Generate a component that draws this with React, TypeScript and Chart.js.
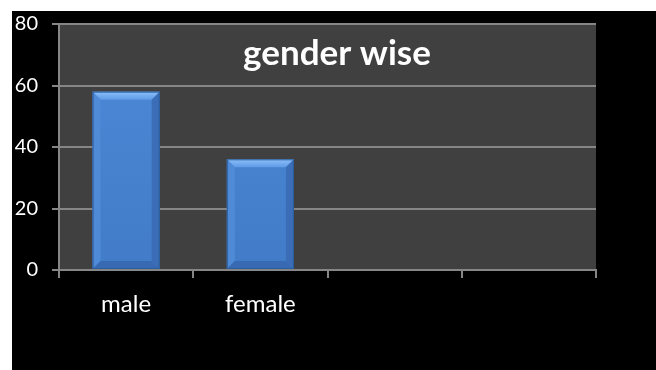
import React, { useEffect, useRef } from "react";
import { Chart, registerables } from "chart.js";

Chart.register(...registerables);

const categories = ["male", "female", "", ""];
const counts = [58, 36, null, null];
const yTicks = [0, 20, 40, 60, 80];
const chartTitle = "gender wise";

const FONT = "Lato, 'Open Sans', sans-serif";
const GRID = "#868686";

// paints the black canvas and the dark grey plot area
const backdrop = {
  id: "backdrop",
  beforeDraw(chart: any) {
    const { ctx, chartArea: a } = chart;
    ctx.save();
    ctx.fillStyle = "#000";
    ctx.fillRect(0, 0, chart.width, chart.height);
    ctx.fillStyle = "#404040";
    ctx.fillRect(a.left, a.top, a.right - a.left, a.bottom - a.top);
    ctx.restore();
  },
};

// bevelled edges on each bar, taken from the bar elements' geometry
const bevel = {
  id: "bevel",
  afterDatasetsDraw(chart: any) {
    const { ctx } = chart;
    const meta = chart.getDatasetMeta(0);
    const values = chart.data.datasets[0].data;
    meta.data.forEach((el: any, i: number) => {
      if (values[i] == null) return;
      const p = el.getProps(["x", "y", "base", "width"], true);
      const l = p.x - p.width / 2;
      const r = p.x + p.width / 2;
      const t = Math.min(p.y, p.base);
      const b = Math.max(p.y, p.base);
      const e = 8;
      ctx.save();
      const poly = (pts: number[][], fill: any) => {
        ctx.beginPath();
        ctx.moveTo(pts[0][0], pts[0][1]);
        for (let k = 1; k < pts.length; k++) ctx.lineTo(pts[k][0], pts[k][1]);
        ctx.closePath();
        ctx.fillStyle = fill;
        ctx.fill();
      };
      const tg = ctx.createLinearGradient(0, t, 0, t + e);
      tg.addColorStop(0, "#8cc0fa");
      tg.addColorStop(1, "#5f9ae6");
      poly([[l, t], [r, t], [r - e, t + e], [l + e, t + e]], tg);
      poly([[l, t], [l + e, t + e], [l + e, b - e], [l, b]], "rgba(80,140,215,0.9)");
      poly([[r, t], [r - e, t + e], [r - e, b - e], [r, b]], "rgba(58,108,180,0.9)");
      poly([[l, b], [l + e, b - e], [r - e, b - e], [r, b]], "rgba(55,105,178,0.95)");
      ctx.strokeStyle = "#2b5c9c";
      ctx.lineWidth = 1;
      ctx.strokeRect(l + 0.5, t + 0.5, r - l - 1, b - t - 1);
      ctx.restore();
    });
  },
};

// title drawn inside the plot area
const innerTitle = {
  id: "innerTitle",
  afterDraw(chart: any) {
    const { ctx, chartArea: a } = chart;
    ctx.save();
    ctx.fillStyle = "#fff";
    ctx.font = `bold 35px ${FONT}`;
    ctx.textAlign = "center";
    ctx.textBaseline = "alphabetic";
    ctx.fillText(chartTitle, chart.width / 2 + 3, a.top + 41);
    ctx.restore();
  },
};

export default function App() {
  const ref = useRef<HTMLCanvasElement>(null);

  useEffect(() => {
    const canvas = ref.current!;
    const ctx = canvas.getContext("2d")!;
    const fill = ctx.createLinearGradient(0, 0, 0, 260);
    fill.addColorStop(0, "#4d8ad8");
    fill.addColorStop(1, "#427cc8");

    const chart = new Chart(canvas, {
      type: "bar",
      data: {
        labels: categories,
        datasets: [
          {
            data: counts as any,
            backgroundColor: fill,
            borderWidth: 0,
            categoryPercentage: 1,
            barPercentage: 0.5,
          },
        ],
      },
      options: {
        responsive: false,
        animation: false,
        events: [],
        layout: { autoPadding: false, padding: { top: 13, right: 60, left: 0, bottom: 0 } },
        plugins: { legend: { display: false }, tooltip: { enabled: false }, title: { display: false } },
        scales: {
          x: {
            grid: {
              offset: true,
              drawOnChartArea: false,
              drawTicks: true,
              tickLength: 8,
              color: GRID,
              lineWidth: 2,
            },
            border: { color: GRID, width: 2 },
            ticks: { color: "#fff", font: { family: FONT, size: 24 }, padding: 12, maxRotation: 0 },
            afterFit(s: any) {
              s.height = 100;
              s.paddingLeft = 0;
              s.paddingRight = 0;
            },
          },
          y: {
            min: 0,
            max: 80,
            afterBuildTicks(s: any) {
              s.ticks = yTicks.map((v) => ({ value: v }));
            },
            grid: { color: GRID, lineWidth: 2, tickLength: 7, drawTicks: true },
            border: { color: GRID, width: 2 },
            ticks: { color: "#fff", font: { family: FONT, size: 20 }, padding: 14 },
            afterFit(s: any) {
              s.width = 47;
              s.paddingTop = 0;
              s.paddingBottom = 0;
            },
          },
        },
      },
      plugins: [backdrop, bevel, innerTitle],
    });
    return () => chart.destroy();
  }, []);

  return (
    <div style={{ position: "absolute", left: 0, top: 0, width: 656, height: 370, background: "#fff" }}>
      <canvas
        ref={ref}
        width={644}
        height={359}
        style={{ position: "absolute", left: 12, top: 11, width: 644, height: 359 }}
      />
    </div>
  );
}
